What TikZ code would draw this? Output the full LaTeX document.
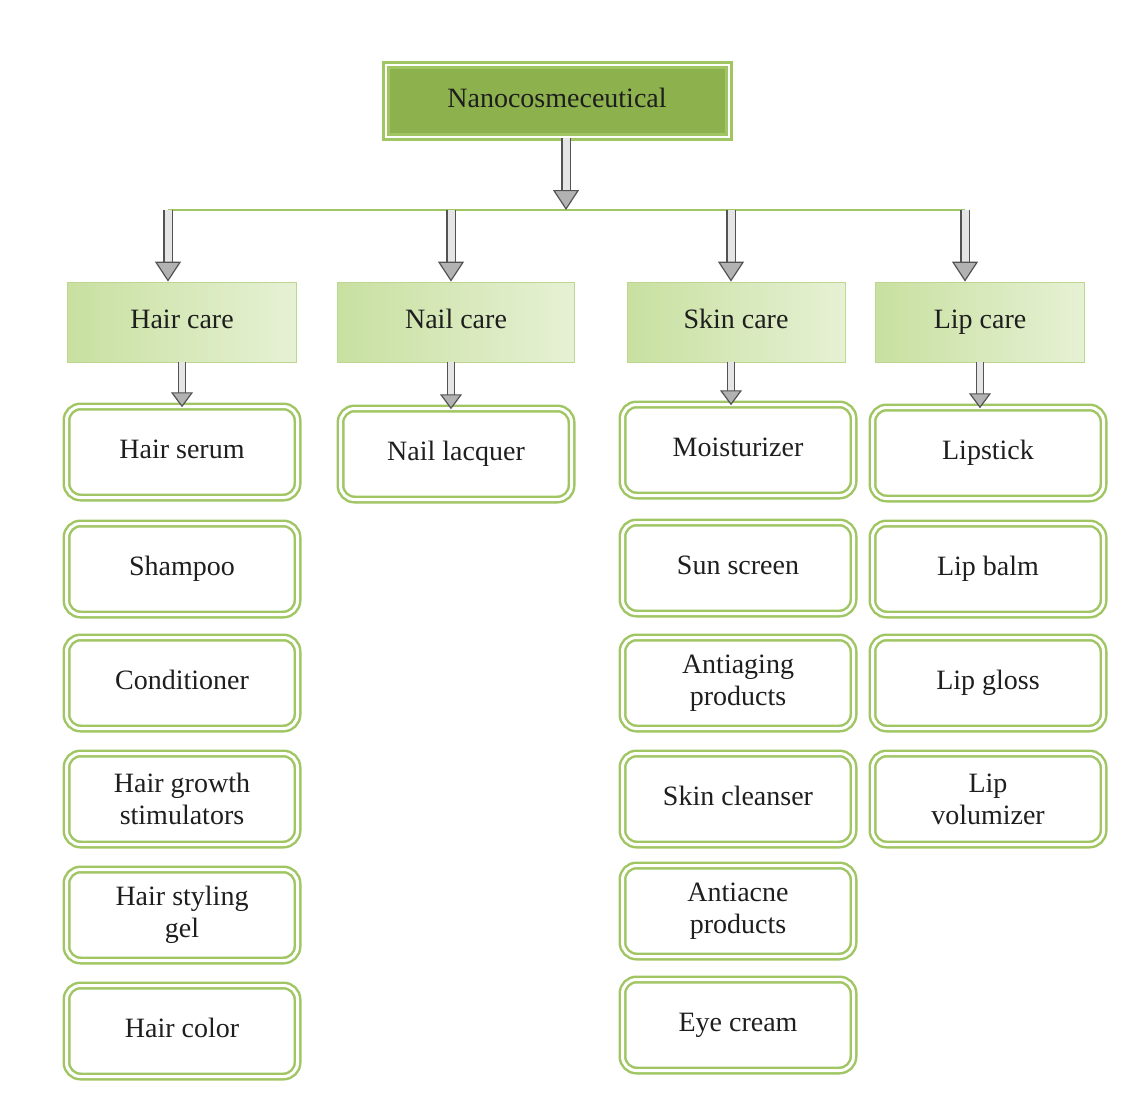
\documentclass[tikz,border=0pt]{standalone}
\usepackage{fontspec}
\setmainfont{Liberation Serif}
\usetikzlibrary{arrows.meta}
\definecolor{leaf}{RGB}{141,178,77}
\definecolor{rim}{RGB}{160,198,100}
\definecolor{pale}{RGB}{200,224,160}
\definecolor{ink}{RGB}{30,30,30}
\tikzset{every picture/.style={line width=0.75pt}}

\begin{document}
\begin{tikzpicture}[x=1pt,y=-1pt,align=center,text=ink,
    font=\fontsize{28}{32}\selectfont,
    root/.style={draw=rim,line width=3pt,double=white,double distance=2pt,fill=leaf,
        minimum width=343,minimum height=72,text height=19pt,text depth=6pt},
    group/.style={draw=rim!70,left color=pale,right color=pale!45!white,
        minimum height=80,text height=19pt,text depth=6pt},
    box/.style={draw=rim,line width=2.5pt,double=white,double distance=3pt,
        rounded corners=14pt,minimum width=231,minimum height=91},
    item/.style={box,text height=19pt,text depth=6pt},
    item2/.style={box},
    big/.style={draw=gray!65!black,line width=1.2pt,double=gray!20,double distance=7pt,
        -{Triangle[length=20pt,width=26pt,fill=gray!60]}},
    small/.style={draw=gray!65!black,line width=1.2pt,double=gray!20,double distance=6pt,
        -{Triangle[length=15pt,width=22pt,fill=gray!60]}}]
    \useasboundingbox (0,0) rectangle (1139,1118);

    \node[root] (top) at (557,101) {Nanocosmeceutical};

    \node[group,minimum width=229] (hair) at (182,322) {Hair care};
    \node[group,minimum width=237] (nail) at (456,322) {Nail care};
    \node[group,minimum width=218] (skin) at (736,322) {Skin care};
    \node[group,minimum width=209] (lip) at (980,322) {Lip care};

    \node[item] (hs) at (182,452) {Hair serum};
    \node[item] (sh) at (182,569) {Shampoo};
    \node[item] (co) at (182,683) {Conditioner};
    \node[item2] (hg) at (182,799) {Hair growth\\stimulators};
    \node[item2] (hy) at (182,915) {Hair styling\\gel};
    \node[item] (hc) at (182,1031) {Hair color};

    \node[item] (nl) at (456,454) {Nail lacquer};

    \node[item] (mo) at (738,450) {Moisturizer};
    \node[item] (ss) at (738,568) {Sun screen};
    \node[item2] (an) at (738,683) {Antiaging\\products};
    \node[item] (sc) at (738,799) {Skin cleanser};
    \node[item2] (ac) at (738,911) {Antiacne\\products};
    \node[item] (ey) at (738,1025) {Eye cream};

    \node[item] (ls) at (988,453) {Lipstick};
    \node[item] (lb) at (988,569) {Lip balm};
    \node[item] (lg) at (988,683) {Lip gloss};
    \node[item2] (lv) at (988,799) {Lip\\volumizer};

    % bar under the root
    \coordinate (j) at (566,210);
    \coordinate (b1) at (168,210);
    \coordinate (b2) at (451,210);
    \coordinate (b3) at (731,210);
    \coordinate (b4) at (965,210);
    \draw[rim,line width=2.5pt] (b1) -- (b4);

    \draw[big] (top.south -| j) -- (j);
    \draw[big] (b1) -- (b1 |- hair.north);
    \draw[big] (b2) -- (b2 |- nail.north);
    \draw[big] (b3) -- (b3 |- skin.north);
    \draw[big] (b4) -- (b4 |- lip.north);

    \draw[small] (hair.south) -- ([yshift=-2pt]hs.north);
    \draw[small] (nail.south -| b2) -- ([yshift=-2pt]nl.north -| b2);
    \draw[small] (skin.south -| b3) -- ([yshift=-2pt]mo.north -| b3);
    \draw[small] (lip.south) -- ([yshift=-2pt]ls.north -| lip.south);
\end{tikzpicture}
\end{document}
